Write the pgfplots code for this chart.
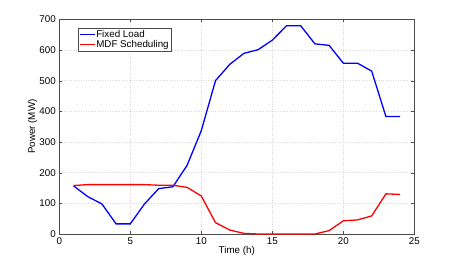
\documentclass[border=0pt]{standalone}
\usepackage{fontspec}
\setmainfont{Liberation Sans}
\usepackage{pgfplots}
\pgfplotsset{compat=1.18}
\begin{document}
\begin{tikzpicture}
\begin{axis}[
  at={(0pt,0pt)}, anchor=south west,
  scale only axis, width=355pt, height=214.7pt,
  xmin=0, xmax=25, ymin=0, ymax=700,
  xtick={0,5,...,25}, ytick={0,100,...,700},
  grid=major, major grid style={dotted, gray!30},
  tick align=inside, major tick length=3pt,
  tick style={black!70},
  axis line style={black!70},
  tick label style={font=\fontsize{9.8}{11}\selectfont},
  /pgf/number format/assume math mode=true,
  label style={font=\fontsize{9.8}{11}\selectfont},
  xlabel={Time (h)}, ylabel={Power (MW)},
  xlabel style={at={(axis description cs:0.5,-0.079)}, anchor=center},
  ylabel style={at={(axis description cs:-0.075,0.5)}, anchor=center},
  legend style={at={(0.052,0.958)}, anchor=north west, draw=black!70,
    inner xsep=1pt, inner ysep=1pt, row sep=-1pt,
    nodes={inner sep=1pt, font=\fontsize{9.8}{11}\selectfont}},
  legend cell align=left,
  legend image code/.code={\draw[#1] (0pt,0pt) -- (15pt,0pt);},
]
\addplot[blue, line width=1.3pt] coordinates {
(1,157) (2,122) (3,98) (4,33) (5,33) (6,98) (7,148) (8,154) (9,224) (10,337)
(11,500) (12,553) (13,589) (14,601) (15,632) (16,679) (17,679) (18,620)
(19,615) (20,557) (21,557) (22,531) (23,383) (24,383)};
\addlegendentry{Fixed Load}
\addplot[red, line width=1.3pt] coordinates {
(1,158) (2,161) (3,161) (4,161) (5,161) (6,161) (7,159) (8,159) (9,152) (10,124)
(11,37) (12,13) (13,2) (14,0) (15,0) (16,0) (17,0) (18,0)
(19,11) (20,43) (21,46) (22,59) (23,131) (24,129)};
\addlegendentry{MDF Scheduling}
\end{axis}
\pgfresetboundingbox
\useasboundingbox (-59.3pt,-29pt) rectangle (397.7pt,234pt);
\end{tikzpicture}
\end{document}
